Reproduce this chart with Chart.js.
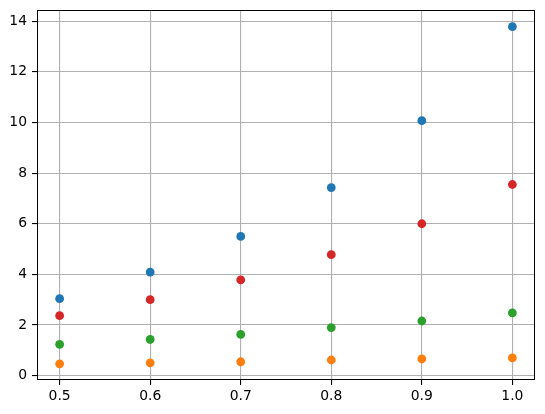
<!DOCTYPE html>
<html>
<head>
<meta charset="utf-8">
<script src="https://cdn.jsdelivr.net/npm/chart.js@4/dist/chart.umd.min.js"></script>
<style>
  html, body { margin: 0; padding: 0; background: #fff; }
  canvas { display: block; }
</style>
</head>
<body>
<canvas id="chart" width="545" height="414"></canvas>
<script>
// x positions shared by all series
const xValues = [0.5, 0.6, 0.7, 0.8, 0.9, 1.0];

// series values
const blueValues = [3.04, 4.09, 5.50, 7.43, 10.07, 13.78];
const redValues = [2.37, 3.00, 3.78, 4.78, 6.00, 7.55];
const greenValues = [1.24, 1.43, 1.63, 1.90, 2.16, 2.48];
const orangeValues = [0.47, 0.51, 0.55, 0.62, 0.66, 0.70];

const xTicks = [0.5, 0.6, 0.7, 0.8, 0.9, 1.0];
const yTicks = [0, 2, 4, 6, 8, 10, 12, 14];

function points(ys) {
  return xValues.map((x, i) => ({ x: x, y: ys[i] }));
}

function series(ys, color) {
  return {
    data: points(ys),
    backgroundColor: color,
    borderColor: color,
    borderWidth: 0,
    pointRadius: 4.4,
    pointHoverRadius: 4.4,
  };
}

// draws all four spines as one box around the plot area
const frame = {
  id: 'frame',
  afterDraw(chart) {
    const a = chart.chartArea;
    const c = chart.ctx;
    c.save();
    c.strokeStyle = '#000';
    c.lineWidth = 1;
    c.strokeRect(a.left + 0.5, a.top + 0.5, a.right - a.left - 1, a.bottom - a.top - 1);
    c.restore();
  }
};

const ctx = document.getElementById('chart').getContext('2d');
new Chart(ctx, {
  type: 'scatter',
  data: {
    datasets: [
      series(blueValues, '#1f77b4'),
      series(orangeValues, '#ff7f0e'),
      series(greenValues, '#2ca02c'),
      series(redValues, '#d62728'),
    ],
  },
  options: {
    responsive: false,
    animation: false,
    layout: { padding: { top: 10, right: 10, left: 0, bottom: 0 } },
    plugins: {
      legend: { display: false },
      tooltip: { enabled: false },
    },
    scales: {
      x: {
        type: 'linear',
        min: 0.475,
        max: 1.025,
        afterBuildTicks: (scale) => { scale.ticks = xTicks.map(v => ({ value: v })); },
        afterFit: (scale) => {
          scale.height = 34;
          scale.paddingLeft = 0;
          scale.paddingRight = 0;
        },
        grid: { color: '#b0b0b0', lineWidth: 1.1, tickColor: '#000', tickLength: 5 },
        border: { display: false },
        ticks: {
          color: '#000',
          font: { family: 'DejaVu Sans', size: 13.9 },
          padding: 3,
          maxRotation: 0,
          callback: (v) => v.toFixed(1),
        },
      },
      y: {
        type: 'linear',
        min: -0.17,
        max: 14.44,
        afterBuildTicks: (scale) => { scale.ticks = yTicks.map(v => ({ value: v })); },
        afterFit: (scale) => {
          scale.width = 37;
          scale.paddingTop = 0;
          scale.paddingBottom = 0;
        },
        grid: { color: '#b0b0b0', lineWidth: 1.1, tickColor: '#000', tickLength: 5 },
        border: { display: false },
        ticks: {
          color: '#000',
          font: { family: 'DejaVu Sans', size: 13.9 },
          padding: 5,
          callback: (v) => String(v),
        },
      },
    },
  },
  plugins: [frame],
});
</script>
</body>
</html>
